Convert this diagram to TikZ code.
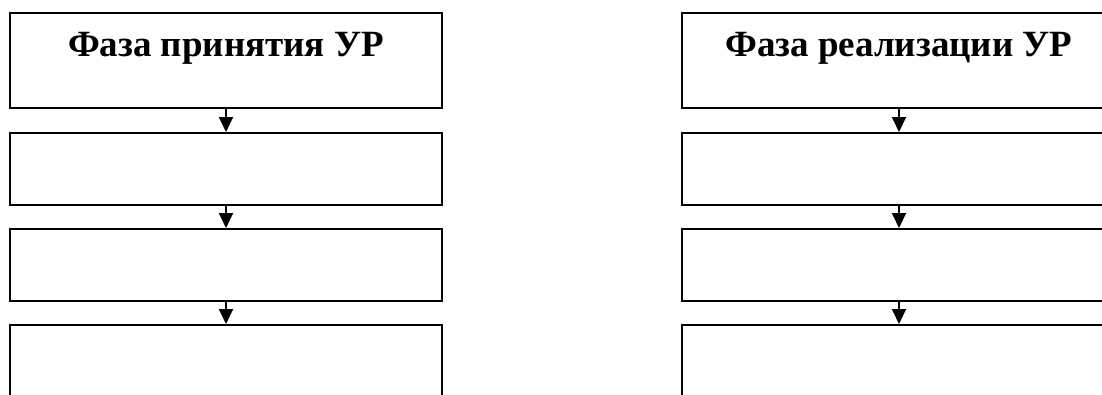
\documentclass[tikz,border=0pt]{standalone}
\usepackage{fontspec}
\setmainfont{Liberation Serif}
\usetikzlibrary{arrows.meta}
\begin{document}
\begin{tikzpicture}[x=1pt,y=-1pt,
  stage/.style={draw=black,line width=2pt,minimum width=432pt,inner sep=0pt,anchor=north},
  head/.style={font=\fontsize{37}{42}\selectfont\bfseries,anchor=base,inner sep=0pt},
  flow/.style={line width=2pt,-{Triangle[width=14pt,length=15pt]}}]
\useasboundingbox (0,0) rectangle (1102,394);
\clip (0,0) rectangle (1102,394);
% left column
\node[stage,minimum height=95pt] (L1) at (226,12) {};
\node[stage,minimum height=72pt] (L2) at (226,132) {};
\node[stage,minimum height=72pt] (L3) at (226,228) {};
\node[stage,minimum height=90pt] (L4) at (226,324) {};
\node[head] (LT) at (226,56) {Фаза принятия УР};
% right column
\node[stage,minimum width=434pt,minimum height=95pt] (R1) at (899,12) {};
\node[stage,minimum width=434pt,minimum height=72pt] (R2) at (899,132) {};
\node[stage,minimum width=434pt,minimum height=72pt] (R3) at (899,228) {};
\node[stage,minimum width=434pt,minimum height=90pt] (R4) at (899,324) {};
\node[head] (RT) at (899,56) {Фаза реализации УР};
% connectors
\draw[flow] (L1.south) -- (L2.north);
\draw[flow] (L2.south) -- (L3.north);
\draw[flow] (L3.south) -- (L4.north);
\draw[flow] (R1.south) -- (R2.north);
\draw[flow] (R2.south) -- (R3.north);
\draw[flow] (R3.south) -- (R4.north);
\end{tikzpicture}
\end{document}
